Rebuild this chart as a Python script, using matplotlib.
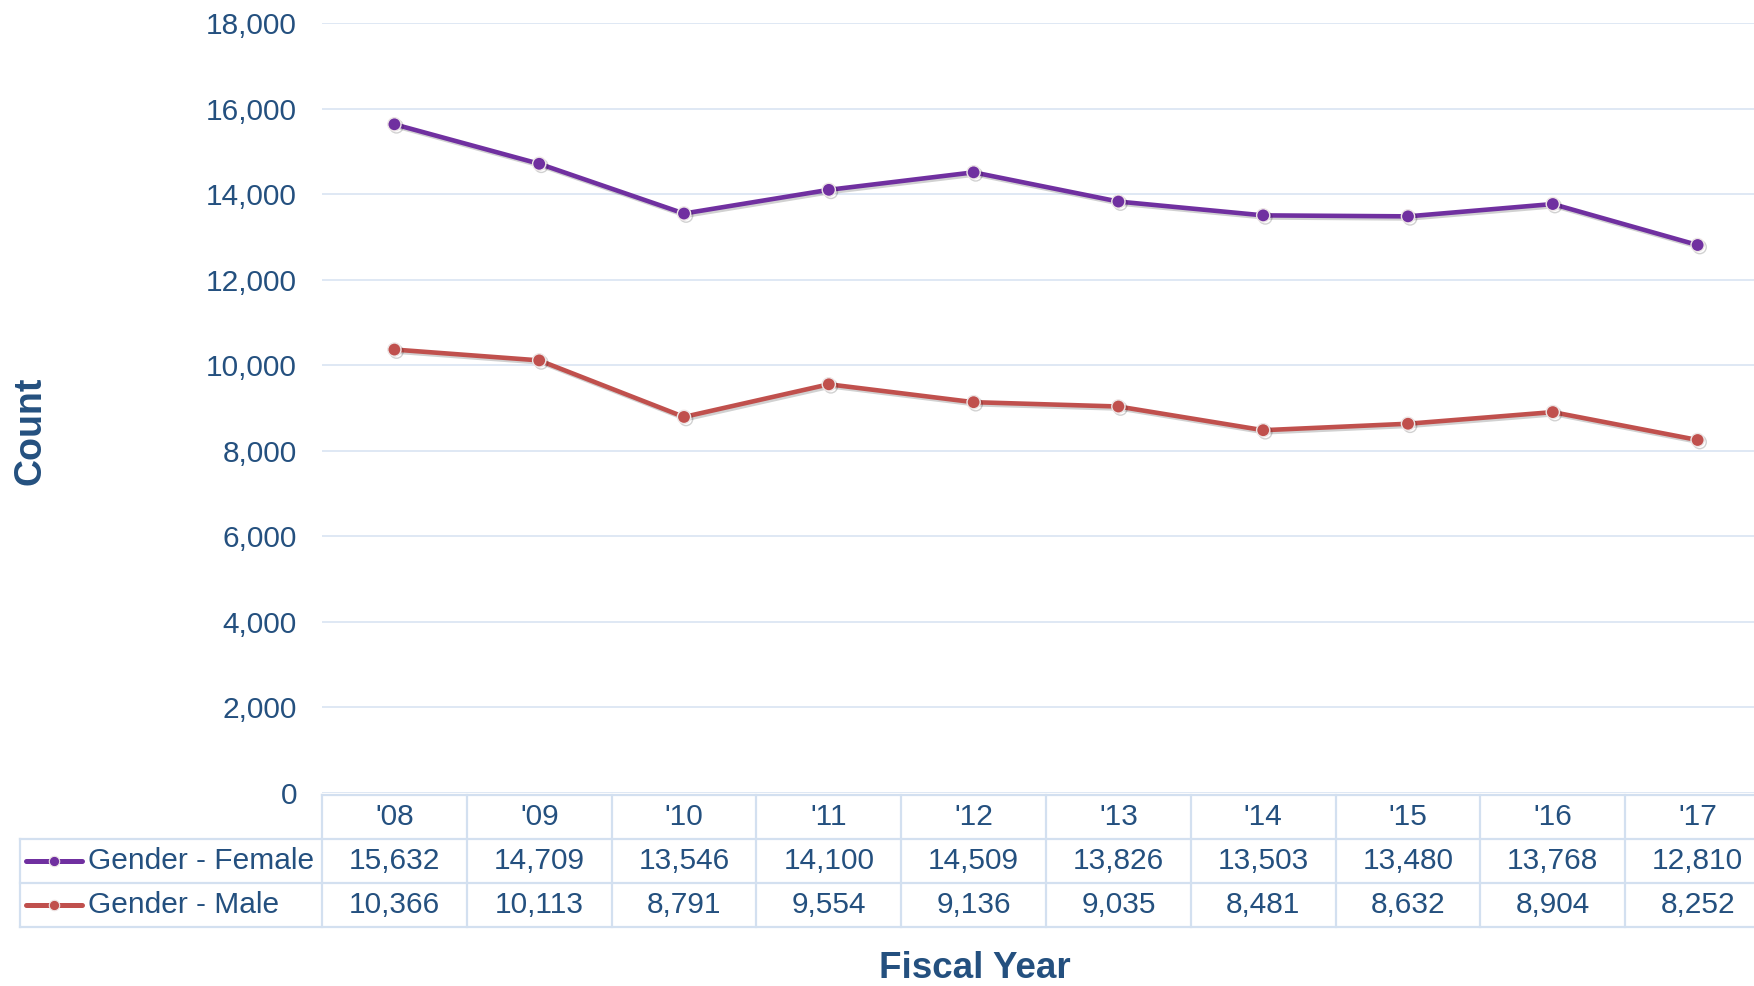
import matplotlib
matplotlib.use("Agg")
import matplotlib.pyplot as plt
import matplotlib.patheffects as pe
import numpy as np

plt.rcParams['font.family'] = ['Liberation Sans', 'DejaVu Sans']

years = ["'08", "'09", "'10", "'11", "'12", "'13", "'14", "'15", "'16", "'17"]
female = [15632, 14709, 13546, 14100, 14509, 13826, 13503, 13480, 13768, 12810]
male = [10366, 10113, 8791, 9554, 9136, 9035, 8481, 8632, 8904, 8252]
series_names = ["Gender - Female", "Gender - Male"]
series_colors = ["#7030A0", "#C0504D"]
y_ticks = np.arange(0, 18001, 2000)

text_col = "#24507F"
grid_col = "#DCE6F3"
W, H = 1754, 986

fig = plt.figure(figsize=(W / 100, H / 100), dpi=100)
# the plot area runs past the right edge of the picture, like the original
col_px = 144.8
left_px, top_px, bottom_px = 322, 23, 793
ax = fig.add_axes([left_px / W, 1 - bottom_px / H,
                   len(years) * col_px / W, (bottom_px - top_px) / H])

x = np.arange(len(years))
shadow = [pe.SimpleLineShadow(offset=(1.5, -1.5), shadow_color="k", alpha=0.18), pe.Normal()]
for vals, col in zip([female, male], series_colors):
    ax.plot(x, vals, color=col, lw=3.3, marker="o", ms=9.5,
            mfc=col, mec="#EDE6E6", mew=1.0, path_effects=shadow, zorder=3)

ax.set_xlim(-0.5, len(years) - 0.5)
ax.set_ylim(0, 18000)
ax.set_yticks(y_ticks)
ax.set_yticklabels([f"{v:,}" for v in y_ticks])
ax.set_xticks([])
ax.yaxis.grid(True, color=grid_col, lw=1.3)
ax.set_axisbelow(True)
ax.tick_params(axis="y", length=0, pad=18, labelsize=21.5, labelcolor=text_col)
for s in ax.spines.values():
    s.set_visible(False)

# data table under the plot
tab_top, tab_bot = 795, 927
tax = fig.add_axes([left_px / W, 1 - tab_bot / H,
                    len(years) * col_px / W, (tab_bot - tab_top) / H])
tax.set_xlim(-0.5, len(years) - 0.5)
tax.set_ylim(0, 3)
tax.axis("off")
lab_w = (left_px - 20) / col_px
x_lab = -0.5 - lab_w
bc = "#D3E0F0"
blw = 1.6
tax.plot([-0.5, len(years) - 0.5], [3, 3], color=bc, lw=blw, clip_on=False)
for yy in [2, 1, 0]:
    tax.plot([x_lab, len(years) - 0.5], [yy, yy], color=bc, lw=blw, clip_on=False)
for k in range(len(years) + 1):
    tax.plot([k - 0.5, k - 0.5], [0, 3], color=bc, lw=blw, clip_on=False)
tax.plot([x_lab, x_lab], [0, 2], color=bc, lw=blw, clip_on=False)

fs = 21.5
for i, yr in enumerate(years):
    tax.text(i, 2.5, yr, ha="center", va="center", fontsize=fs, color=text_col)
for r, (vals, name, col) in enumerate(zip([female, male], series_names, series_colors)):
    yy = 1.5 - r
    for i, v in enumerate(vals):
        tax.text(i, yy, f"{v:,}", ha="center", va="center", fontsize=fs, color=text_col)
    gx0 = x_lab + 6 / col_px
    gx1 = x_lab + 62 / col_px
    tax.plot([gx0, gx1], [yy, yy], color=col, lw=3.6, clip_on=False, solid_capstyle="round")
    tax.plot([(gx0 + gx1) / 2], [yy], "o", color=col, ms=7.5, mec="#EDE6E6", mew=0.8, clip_on=False)
    tax.text(x_lab + 68 / col_px, yy, name, ha="left", va="center", fontsize=fs, color=text_col)

fig.text(30 / W, 1 - 431 / H, "Count", rotation=90, ha="center", va="center",
         fontsize=27, fontweight="bold", color=text_col)
fig.text(975 / W, 1 - 969 / H, "Fiscal Year", ha="center", va="center",
         fontsize=26.5, fontweight="bold", color=text_col)

fig.savefig("out.png", dpi=100)
